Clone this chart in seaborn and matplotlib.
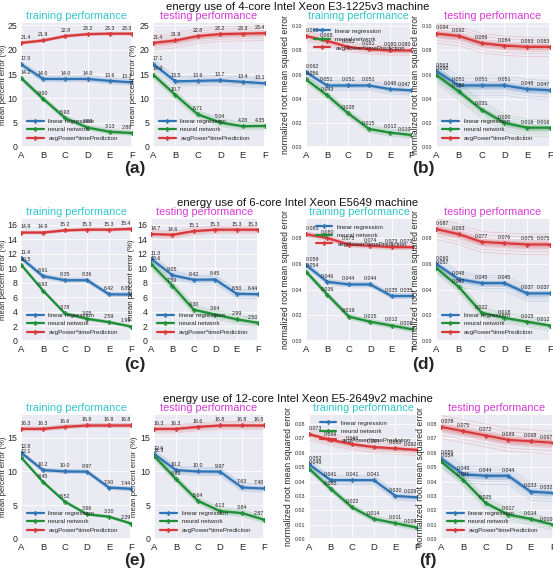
import numpy as np
import pandas as pd
import matplotlib
matplotlib.use("Agg")
import matplotlib.pyplot as plt
import seaborn as sns

STAGES = ["A", "B", "C", "D", "E", "F"]
SERIES = ["linear regression", "neural network", "avgPower*timePrediction"]
COLORS = ["#2f74b5", "#1e8f36", "#d9383a"]

MACHINES = [
    "energy use of 4-core Intel Xeon E3-1225v3 machine",
    "energy use of 6-core Intel Xeon E5649 machine",
    "energy use of 12-core Intel Xeon E5-2649v2 machine",
]

# mean percent error (%), per machine: train / test, rows = LR, NN, avg
mpe_train_4 = [[17.0, 14.0, 14.0, 14.0, 13.6, 13.3],
               [14.2, 9.90, 5.93, 3.99, 3.13, 2.88],
               [21.4, 21.9, 22.8, 23.2, 23.3, 23.3]]
mpe_test_4 = [[17.1, 13.5, 13.6, 13.7, 13.4, 13.1],
              [14.9, 10.7, 6.71, 5.04, 4.28, 4.35],
              [21.4, 21.9, 22.8, 23.2, 23.3, 23.4]]
mpe_train_6 = [[11.4, 8.91, 8.35, 8.36, 6.42, 6.39],
               [10.5, 6.93, 3.78, 3.05, 2.59, 1.99],
               [14.9, 14.9, 15.2, 15.3, 15.3, 15.4]]
mpe_test_6 = [[11.3, 9.05, 8.42, 8.45, 6.50, 6.44],
              [10.6, 7.59, 4.30, 3.64, 2.99, 2.50],
              [14.7, 14.6, 15.1, 15.3, 15.3, 15.3]]
mpe_train_12 = [[12.8, 10.2, 10.0, 9.97, 7.60, 7.44],
                [12.1, 8.45, 5.52, 3.66, 3.30, 2.29],
                [16.3, 16.3, 16.6, 16.8, 16.8, 16.8]]
mpe_test_12 = [[12.6, 10.2, 10.0, 9.97, 7.63, 7.48],
               [12.3, 8.88, 5.64, 4.13, 3.84, 2.87],
               [16.3, 16.3, 16.6, 16.8, 16.8, 16.8]]

# normalized root mean squared error
nrmse_train_4 = [[0.062, 0.051, 0.051, 0.051, 0.048, 0.047],
                 [0.056, 0.043, 0.028, 0.015, 0.012, 0.010],
                 [0.092, 0.088, 0.083, 0.081, 0.080, 0.080]]
nrmse_test_4 = [[0.063, 0.051, 0.051, 0.051, 0.048, 0.047],
                [0.060, 0.046, 0.031, 0.020, 0.016, 0.016],
                [0.094, 0.092, 0.086, 0.084, 0.083, 0.083]]
nrmse_train_6 = [[0.059, 0.046, 0.044, 0.044, 0.035, 0.035],
                 [0.054, 0.036, 0.019, 0.015, 0.012, 0.009],
                 [0.083, 0.080, 0.075, 0.074, 0.073, 0.073]]
nrmse_test_6 = [[0.060, 0.048, 0.045, 0.045, 0.037, 0.037],
                [0.057, 0.042, 0.022, 0.018, 0.015, 0.012],
                [0.087, 0.083, 0.077, 0.076, 0.075, 0.075]]
nrmse_train_12 = [[0.052, 0.041, 0.041, 0.041, 0.030, 0.029],
                  [0.049, 0.035, 0.022, 0.014, 0.011, 0.008],
                  [0.073, 0.069, 0.066, 0.064, 0.063, 0.062]]
nrmse_test_12 = [[0.056, 0.045, 0.044, 0.044, 0.033, 0.032],
                 [0.054, 0.041, 0.025, 0.017, 0.014, 0.010],
                 [0.078, 0.075, 0.072, 0.069, 0.068, 0.067]]

# spread of the individual runs around the mean (LR, NN, avg)
spread_mpe = [([0.6, 0.5, 0.3], [1.0, 0.8, 1.5]),
              ([0.3, 0.2, 0.2], [0.6, 0.6, 0.5]),
              ([0.3, 0.2, 0.3], [0.6, 0.5, 0.6])]
spread_nrmse = [([0.004, 0.003, 0.004], [0.008, 0.007, 0.008]),
                ([0.002, 0.002, 0.002], [0.006, 0.004, 0.008]),
                ([0.003, 0.002, 0.004], [0.006, 0.004, 0.008])]
RUN_OFFSETS = [-1.0, -0.7, -0.45, -0.2, 0.15, 0.4, 0.7, 1.0]

MPE = [(mpe_train_4, mpe_test_4), (mpe_train_6, mpe_test_6), (mpe_train_12, mpe_test_12)]
NRMSE = [(nrmse_train_4, nrmse_test_4), (nrmse_train_6, nrmse_test_6),
         (nrmse_train_12, nrmse_test_12)]
MPE_YLIM = [25.7, 16.9, 18.5]
MPE_TICKS = [np.arange(0, 26, 5), np.arange(0, 17, 2), np.arange(0, 16, 5)]
NRMSE_YLIM = [0.1036, 0.0956, 0.087]
NRMSE_TICKS = [np.arange(0, 0.101, 0.02), np.arange(0, 0.081, 0.02), np.arange(0, 0.081, 0.01)]

# pixel layout (x0, x1) for the four axes of each row, (top, bottom) of each row
COLS = [[(21, 132), (153, 265), (306, 411), (436, 550)],
        [(21, 131), (151, 258), (306, 413), (436, 550)],
        [(21, 131), (154, 264), (309, 417), (441, 553)]]
ROWS = [(22, 147), (218, 341), (414, 539)]
TITLE_Y = [7, 203, 399]
LETTERS = [("(a)", "(b)"), ("(c)", "(d)"), ("(e)", "(f)")]
LETTER_Y = [168, 364, 560]
LETTER_X = [(135, 423), (135, 423), (135, 428)]

W, H = 553, 570

sns.set_theme(style="darkgrid")
plt.rcParams["font.family"] = ["Liberation Sans", "DejaVu Sans"]
plt.rcParams["axes.facecolor"] = "#eaeaf2"


def fmt(v):
    if v >= 10:
        return f"{v:.1f}"
    if v >= 1:
        return f"{v:.2f}"
    return f"{v:.3f}"


def draw_panel(ax, values, spreads, ylim, ticks, legend_loc, small):
    x = np.arange(len(STAGES))
    for vals, sp, col in zip(values, spreads, COLORS):
        vals = np.asarray(vals)
        for k in RUN_OFFSETS:
            ax.plot(x, vals + k * sp, color=col, lw=0.5, alpha=0.22, zorder=1)
        ax.fill_between(x, vals - 0.35 * sp, vals + 0.35 * sp, color=col,
                        alpha=0.25, lw=0, zorder=2)
    df = pd.DataFrame({
        "stage": np.tile(x, len(SERIES)),
        "value": np.concatenate([np.asarray(v) for v in values]),
        "model": np.repeat(SERIES, len(STAGES)),
    })
    sns.lineplot(data=df, x="stage", y="value", hue="model", hue_order=SERIES,
                 palette=COLORS, marker="P", markersize=3.5, markeredgewidth=0,
                 lw=1.6, ax=ax, zorder=3)
    off = 0.025 * ylim
    for vals in values:
        for i, v in enumerate(vals):
            ha = "left" if i == 0 else ("right" if i == len(vals) - 1 else "center")
            ax.text(i, v + off, fmt(v), fontsize=3.8, ha=ha, va="bottom",
                    color="#222222", zorder=4)
    ax.set_xlim(0, 5)
    ax.set_ylim(0, ylim)
    ax.set_yticks(ticks)
    ax.set_xticks(x)
    ax.set_xticklabels(STAGES)
    ax.set_xlabel("")
    ax.tick_params(axis="both", length=0)
    ax.tick_params(axis="x", labelsize=6.8, pad=3)
    ax.tick_params(axis="y", labelsize=3.8 if small else 6.3, pad=2.5)
    if small:
        ax.yaxis.set_major_formatter(matplotlib.ticker.FormatStrFormatter("%.2f"))
    ax.grid(color="white", lw=0.6)
    ax.legend(loc=legend_loc, fontsize=4.5, frameon=False, handlelength=2.6,
              borderaxespad=0.6, labelspacing=0.5)


fig = plt.figure(figsize=(W / 100, H / 100), dpi=100)

for r in range(3):
    top, bot = ROWS[r]
    axes = []
    for c, (x0, x1) in enumerate(COLS[r]):
        ax = fig.add_axes([x0 / W, 1 - bot / H, (x1 - x0) / W, (bot - top) / H])
        axes.append(ax)
    for j in range(2):
        ax = axes[j]
        draw_panel(ax, MPE[r][j], spread_mpe[r][j], MPE_YLIM[r], MPE_TICKS[r],
                   "lower left", False)
        ax.set_ylabel("mean percent error (%)", fontsize=5.6)
        w = COLS[r][j][1] - COLS[r][j][0]
        ax.yaxis.set_label_coords(-(14 + 2 * j) / w, 0.5)
    for j in range(2):
        ax = axes[2 + j]
        draw_panel(ax, NRMSE[r][j], spread_nrmse[r][j], NRMSE_YLIM[r], NRMSE_TICKS[r],
                   "upper right" if j == 0 else "lower left", True)
        ax.set_ylabel("normalized root mean squared error", fontsize=6.2)
        w = COLS[r][2 + j][1] - COLS[r][2 + j][0]
        ax.yaxis.set_label_coords(-16 / w, 0.5)
    for ax in (axes[0], axes[2]):
        ax.set_title("training performance", color="#33c6cc", fontsize=7.8, pad=2)
    for ax in (axes[1], axes[3]):
        ax.set_title("testing performance", color="#d63ad6", fontsize=7.8, pad=2)
    fig.text(298 / W, 1 - TITLE_Y[r] / H, MACHINES[r], ha="center", va="center",
             fontsize=8.2, color="#111111")
    fig.text(LETTER_X[r][0] / W, 1 - LETTER_Y[r] / H, LETTERS[r][0], ha="center",
             va="center", fontsize=12.5, fontweight="bold")
    fig.text(LETTER_X[r][1] / W, 1 - LETTER_Y[r] / H, LETTERS[r][1], ha="center",
             va="center", fontsize=12.5, fontweight="bold")

fig.savefig("out.png", dpi=100, facecolor="white")
